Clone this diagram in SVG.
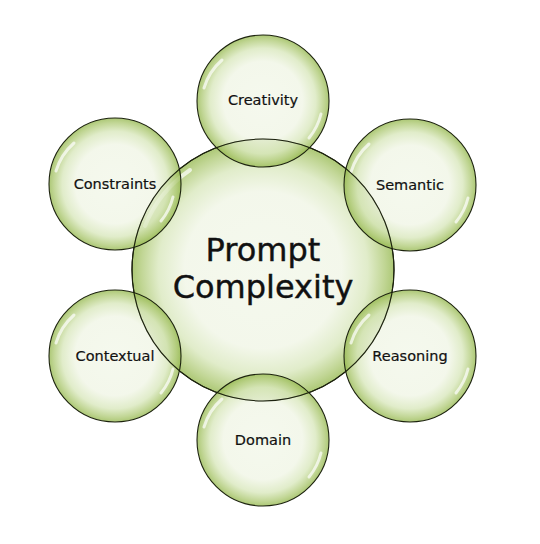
<svg xmlns="http://www.w3.org/2000/svg" width="540" height="544" viewBox="0 0 540 544">
<defs>
<radialGradient id="bub" cx="50%" cy="50%" r="50%">
<stop offset="0" stop-color="#f2f7e9"/>
<stop offset="0.6" stop-color="#f0f5e5"/>
<stop offset="0.8" stop-color="#d8e7bb"/>
<stop offset="0.93" stop-color="#afca76"/>
<stop offset="1" stop-color="#95b84f"/>
</radialGradient>
<style>
.b{fill:url(#bub);fill-opacity:0.78;stroke:#1c220e;stroke-width:1.1}
.o{fill:none;stroke:#1c220e;stroke-width:1.1}
.hl{fill:none;stroke:#ffffff;stroke-linecap:round;opacity:0.7}
.t{font-family:"DejaVu Sans","Liberation Sans",sans-serif;font-size:14.5px;fill:#111;stroke:#111;stroke-width:0.2;text-anchor:middle}
.tc{font-family:"DejaVu Sans","Liberation Sans",sans-serif;font-size:32px;fill:#111;stroke:#111;stroke-width:0.4;text-anchor:middle}
</style>
</defs>
<rect width="540" height="544" fill="#ffffff"/>
<g id="center">
<circle class="b" cx="263" cy="270" r="131"/>
<path class="hl" stroke-width="4" d="M 145 226 A 124 124 0 0 1 190 170"/>
<text class="tc" x="263" y="261">Prompt</text>
<text class="tc" x="263" y="298">Complexity</text>
</g>
<g id="creativity">
<circle class="b" cx="263" cy="101" r="66"/>
<path class="hl" stroke-width="3" d="M 204 88 A 60 60 0 0 1 222 60"/>
<path class="hl" stroke-width="3" d="M 321 114 A 60 60 0 0 1 309 138"/>
<text class="t" x="263" y="105">Creativity</text>
</g>
<g id="semantic">
<circle class="b" cx="410" cy="185" r="66"/>
<path class="hl" stroke-width="3" d="M 351 172 A 60 60 0 0 1 369 144"/>
<path class="hl" stroke-width="3" d="M 468 198 A 60 60 0 0 1 456 222"/>
<text class="t" x="410" y="190">Semantic</text>
</g>
<g id="reasoning">
<circle class="b" cx="410" cy="356" r="66"/>
<path class="hl" stroke-width="3" d="M 351 343 A 60 60 0 0 1 369 315"/>
<path class="hl" stroke-width="3" d="M 468 369 A 60 60 0 0 1 456 393"/>
<text class="t" x="410" y="361">Reasoning</text>
</g>
<g id="domain">
<circle class="b" cx="263" cy="440" r="66"/>
<path class="hl" stroke-width="3" d="M 204 427 A 60 60 0 0 1 222 399"/>
<path class="hl" stroke-width="3" d="M 321 453 A 60 60 0 0 1 309 477"/>
<text class="t" x="263" y="445">Domain</text>
</g>
<g id="contextual">
<circle class="b" cx="115" cy="356" r="66"/>
<path class="hl" stroke-width="3" d="M 56 343 A 60 60 0 0 1 74 315"/>
<path class="hl" stroke-width="3" d="M 173 369 A 60 60 0 0 1 161 393"/>
<text class="t" x="115" y="361">Contextual</text>
</g>
<g id="constraints">
<circle class="b" cx="115" cy="184" r="66"/>
<path class="hl" stroke-width="3" d="M 56 171 A 60 60 0 0 1 74 143"/>
<path class="hl" stroke-width="3" d="M 173 197 A 60 60 0 0 1 161 221"/>
<text class="t" x="115" y="189">Constraints</text>
</g>
<g id="center-outline">
<circle class="o" cx="263" cy="270" r="131"/>
</g>
<g id="connectors"></g>
</svg>
